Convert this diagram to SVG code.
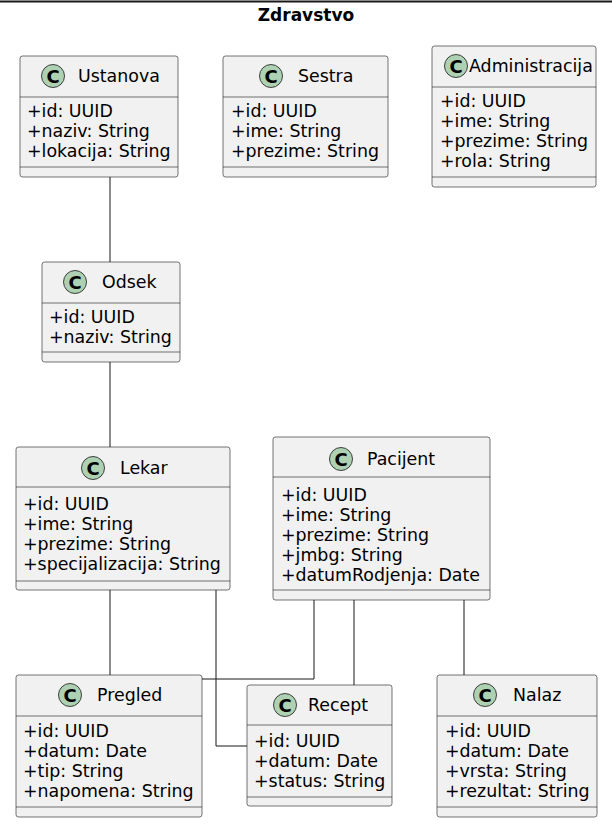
<svg xmlns="http://www.w3.org/2000/svg" width="612" height="825" viewBox="0 0 612 825">
<style>
.box{fill:#F1F1F1;stroke:#181818;stroke-width:0.6}
.sep{stroke:#181818;stroke-width:0.6}
.ci{fill:#ADD1B2;stroke:#181818;stroke-width:0.8}
.cl{font-family:"DejaVu Sans",sans-serif;font-size:18px;font-weight:bold;fill:#000;text-anchor:middle}
.t{font-family:"DejaVu Sans",sans-serif;font-size:17.4px;fill:#000}
.title{font-family:"DejaVu Sans",sans-serif;font-size:17px;font-weight:bold;fill:#000;text-anchor:middle}
.edge{fill:none;stroke:#181818;stroke-width:1}
</style>
<rect x="0" y="0" width="612" height="825" fill="#FFFFFF"/>
<line x1="0" y1="1.5" x2="612" y2="1.5" stroke="#181818" stroke-width="1.8"/>
<text class="title" x="306" y="21">Zdravstvo</text>

<g id="connectors">
<path class="edge" d="M110,177 V262"/>
<path class="edge" d="M110,362 V447"/>
<path class="edge" d="M110,590 V675"/>
<path class="edge" d="M216,590 V746 H247"/>
<path class="edge" d="M314,600 V679 H202"/>
<path class="edge" d="M354,600 V685"/>
<path class="edge" d="M464,600 V675"/>
</g>

<g id="Ustanova">
<rect class="box" x="20" y="56" width="158" height="121" rx="2.5"/>
<line class="sep" x1="20" y1="97" x2="178" y2="97"/>
<line class="sep" x1="20" y1="167" x2="178" y2="167"/>
<circle class="ci" cx="53" cy="76" r="11.5"/>
<text class="cl" x="53" y="82.5">C</text>
<text class="t" x="78" y="82">Ustanova</text>
<text class="t" x="27" y="117">+id: UUID</text>
<text class="t" x="27" y="137">+naziv: String</text>
<text class="t" x="27" y="157">+lokacija: String</text>
</g>

<g id="Sestra">
<rect class="box" x="223" y="56" width="165" height="121" rx="2.5"/>
<line class="sep" x1="223" y1="97" x2="388" y2="97"/>
<line class="sep" x1="223" y1="167" x2="388" y2="167"/>
<circle class="ci" cx="271" cy="76" r="11.5"/>
<text class="cl" x="271" y="82.5">C</text>
<text class="t" x="298" y="82">Sestra</text>
<text class="t" x="231" y="117">+id: UUID</text>
<text class="t" x="231" y="137">+ime: String</text>
<text class="t" x="231" y="157">+prezime: String</text>
</g>

<g id="Administracija">
<rect class="box" x="432" y="46" width="164" height="141" rx="2.5"/>
<line class="sep" x1="432" y1="87" x2="596" y2="87"/>
<line class="sep" x1="432" y1="177" x2="596" y2="177"/>
<circle class="ci" cx="456" cy="66" r="11.5"/>
<text class="cl" x="456" y="72.5">C</text>
<text class="t" x="469" y="72">Administracija</text>
<text class="t" x="440" y="107">+id: UUID</text>
<text class="t" x="440" y="127">+ime: String</text>
<text class="t" x="440" y="147">+prezime: String</text>
<text class="t" x="440" y="167">+rola: String</text>
</g>

<g id="Odsek">
<rect class="box" x="42" y="262" width="138" height="100" rx="2.5"/>
<line class="sep" x1="42" y1="303" x2="180" y2="303"/>
<line class="sep" x1="42" y1="352" x2="180" y2="352"/>
<circle class="ci" cx="75" cy="282" r="11.5"/>
<text class="cl" x="75" y="288.5">C</text>
<text class="t" x="102" y="288">Odsek</text>
<text class="t" x="49" y="323">+id: UUID</text>
<text class="t" x="49" y="343">+naziv: String</text>
</g>

<g id="Lekar">
<rect class="box" x="16" y="447" width="214" height="143" rx="2.5"/>
<line class="sep" x1="16" y1="487" x2="230" y2="487"/>
<line class="sep" x1="16" y1="581" x2="230" y2="581"/>
<circle class="ci" cx="93" cy="468" r="11.5"/>
<text class="cl" x="93" y="474.5">C</text>
<text class="t" x="120" y="474">Lekar</text>
<text class="t" x="23" y="510">+id: UUID</text>
<text class="t" x="23" y="530">+ime: String</text>
<text class="t" x="23" y="550">+prezime: String</text>
<text class="t" x="23" y="570">+specijalizacija: String</text>
</g>

<g id="Pacijent">
<rect class="box" x="273" y="437" width="217" height="163" rx="2.5"/>
<line class="sep" x1="273" y1="477" x2="490" y2="477"/>
<line class="sep" x1="273" y1="590" x2="490" y2="590"/>
<circle class="ci" cx="341" cy="459" r="11.5"/>
<text class="cl" x="341" y="465.5">C</text>
<text class="t" x="367" y="465">Pacijent</text>
<text class="t" x="281" y="501">+id: UUID</text>
<text class="t" x="281" y="521">+ime: String</text>
<text class="t" x="281" y="541">+prezime: String</text>
<text class="t" x="281" y="561">+jmbg: String</text>
<text class="t" x="281" y="581">+datumRodjenja: Date</text>
</g>

<g id="Pregled">
<rect class="box" x="16" y="675" width="186" height="142" rx="2.5"/>
<line class="sep" x1="16" y1="716" x2="202" y2="716"/>
<line class="sep" x1="16" y1="807" x2="202" y2="807"/>
<circle class="ci" cx="70" cy="695" r="11.5"/>
<text class="cl" x="70" y="701.5">C</text>
<text class="t" x="97" y="701">Pregled</text>
<text class="t" x="23" y="737">+id: UUID</text>
<text class="t" x="23" y="757">+datum: Date</text>
<text class="t" x="23" y="777">+tip: String</text>
<text class="t" x="23" y="797">+napomena: String</text>
</g>

<g id="Recept">
<rect class="box" x="247" y="685" width="145" height="121" rx="2.5"/>
<line class="sep" x1="247" y1="725" x2="392" y2="725"/>
<line class="sep" x1="247" y1="797" x2="392" y2="797"/>
<circle class="ci" cx="285" cy="705" r="11.5"/>
<text class="cl" x="285" y="711.5">C</text>
<text class="t" x="308" y="711">Recept</text>
<text class="t" x="254" y="747">+id: UUID</text>
<text class="t" x="254" y="767">+datum: Date</text>
<text class="t" x="254" y="787">+status: String</text>
</g>

<g id="Nalaz">
<rect class="box" x="437" y="675" width="160" height="142" rx="2.5"/>
<line class="sep" x1="437" y1="716" x2="597" y2="716"/>
<line class="sep" x1="437" y1="807" x2="597" y2="807"/>
<circle class="ci" cx="485" cy="695" r="11.5"/>
<text class="cl" x="485" y="701.5">C</text>
<text class="t" x="513" y="701">Nalaz</text>
<text class="t" x="445" y="737">+id: UUID</text>
<text class="t" x="445" y="757">+datum: Date</text>
<text class="t" x="445" y="777">+vrsta: String</text>
<text class="t" x="445" y="797">+rezultat: String</text>
</g>
</svg>
